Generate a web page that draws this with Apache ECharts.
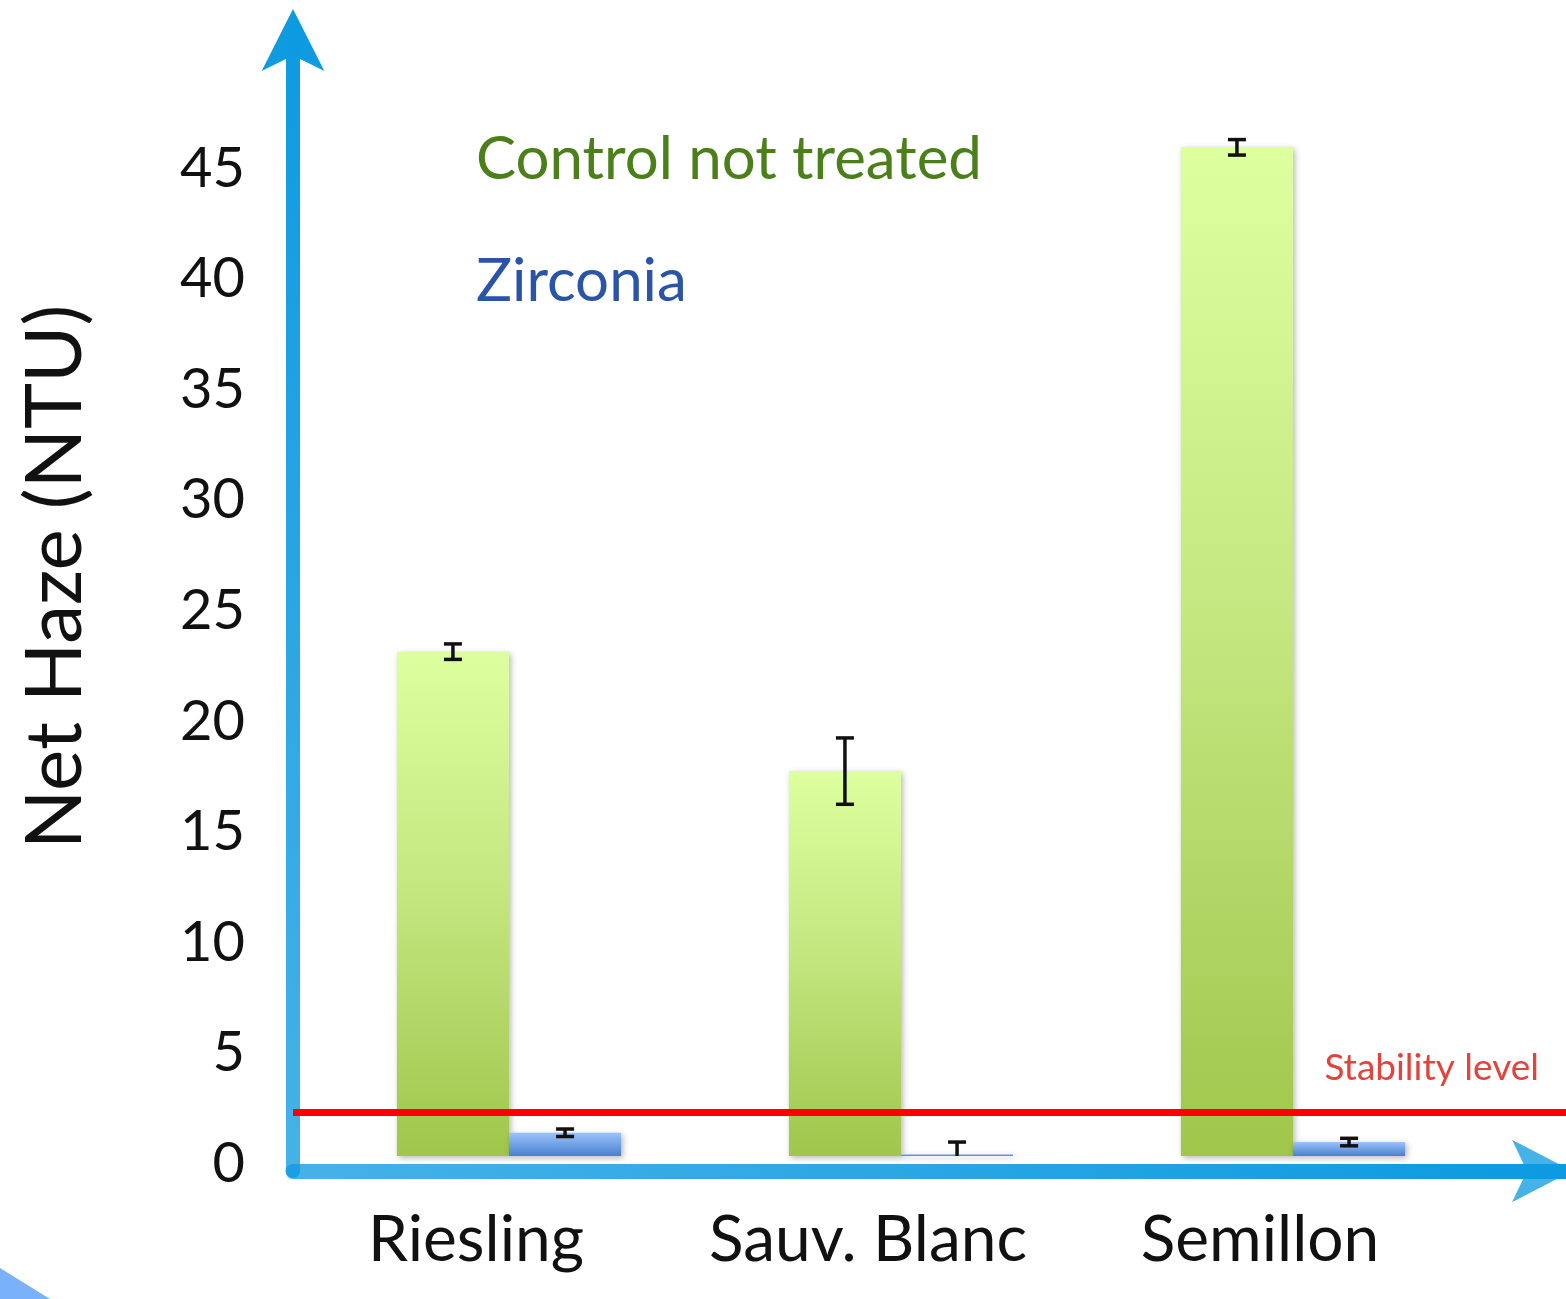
<!DOCTYPE html>
<html>
<head>
<meta charset="utf-8">
<title>Net Haze (NTU)</title>
<script src="https://cdn.jsdelivr.net/npm/echarts@6/dist/echarts.min.js"></script>
<style>
  html, body { margin: 0; padding: 0; background: #ffffff; }
  #chart { width: 1566px; height: 1299px; }
</style>
</head>
<body>
<div id="chart"></div>
<script>
// Wine varieties and net haze measurements (NTU)
const categories = ['Riesling', 'Sauv. Blanc', 'Semillon'];
const controlValues = [22.8, 17.4, 45.6];
const controlErrors = [0.35, 1.5, 0.35];
const zirconiaValues = [1.05, 0.08, 0.63];
const zirconiaErrors = [0.17, 0.55, 0.17];
const stabilityLevel = 2;
const yMax = 50;
const yInterval = 5;
const seriesNames = ['Control not treated', 'Zirconia'];

const FONT = 'Lato, "Open Sans", sans-serif';
const CHART_H = 1299;
const PLOT = { left: 313, right: 77, top: 50, bottom: 143 };   // bar grid
const FRAME = { left: 293, right: 0, top: 41, bottom: 128 };   // arrow axes grid
const BAR_FRACTION = 0.286;                                      // bar width / category band

// keep the arrow frame on the same value scale as the bar grid
const pxPerUnit = (CHART_H - PLOT.top - PLOT.bottom) / yMax;
const zeroPx = CHART_H - PLOT.bottom;
const frameMin = (zeroPx - (CHART_H - FRAME.bottom)) / pxPerUnit;
const frameMax = (zeroPx - FRAME.top) / pxPerUnit;

function errorData(values, errors) {
  return values.map((v, i) => [i, v - errors[i], v + errors[i]]);
}

function errorBarRenderer(side) {
  return function (params, api) {
    const cat = api.value(0);
    const band = api.size([1, 0])[0];
    const x = api.coord([cat, 0])[0] + side * band * BAR_FRACTION / 2;
    const yLo = api.coord([cat, api.value(1)])[1];
    const yHi = api.coord([cat, api.value(2)])[1];
    const half = 9;
    const style = { stroke: '#111111', lineWidth: 3.5 };
    return {
      type: 'group',
      children: [
        { type: 'line', shape: { x1: x, y1: yHi, x2: x, y2: yLo }, style },
        { type: 'line', shape: { x1: x - half, y1: yHi, x2: x + half, y2: yHi }, style },
        { type: 'line', shape: { x1: x - half, y1: yLo, x2: x + half, y2: yLo }, style }
      ]
    };
  };
}

const greenFill = new echarts.graphic.LinearGradient(0, 0, 0, 1, [
  { offset: 0, color: '#ddff9e' },
  { offset: 0.45, color: '#c6e882' },
  { offset: 1, color: '#a0c64c' }
]);
const blueFill = new echarts.graphic.LinearGradient(0, 0, 0, 1, [
  { offset: 0, color: '#9cc3fa' },
  { offset: 1, color: '#4880d0' }
]);
const barShadow = {
  shadowBlur: 6, shadowColor: 'rgba(0,0,0,0.28)', shadowOffsetX: 2, shadowOffsetY: 2
};

const yArrowColor = new echarts.graphic.LinearGradient(0, CHART_H - FRAME.bottom + 8, 0, 10, [
  { offset: 0, color: 'rgba(12,154,224,0.76)' },
  { offset: 1, color: 'rgba(12,154,224,1)' }
], true);
const xArrowColor = new echarts.graphic.LinearGradient(FRAME.left - 8, 0, 1566, 0, [
  { offset: 0, color: 'rgba(12,154,224,0.76)' },
  { offset: 1, color: 'rgba(12,154,224,1)' }
], true);

const chart = echarts.init(document.getElementById('chart'), null, { renderer: 'canvas' });

chart.setOption({
  backgroundColor: '#ffffff',
  animation: false,
  textStyle: { fontFamily: FONT },
  legend: {
    data: [
      { name: seriesNames[0], textStyle: { color: '#4a7f1a' } },
      { name: seriesNames[1], textStyle: { color: '#2a54a8' } }
    ],
    orient: 'vertical',
    left: 466,
    top: 125,
    icon: 'none',
    itemWidth: 0,
    itemHeight: 10,
    itemGap: 62,
    selectedMode: false,
    textStyle: { fontSize: 60, lineHeight: 60, fontFamily: FONT }
  },
  grid: [
    Object.assign({ containLabel: false, outerBoundsMode: 'none' }, PLOT),
    Object.assign({ containLabel: false, outerBoundsMode: 'none' }, FRAME)
  ],
  xAxis: [
    {
      gridIndex: 0,
      type: 'category',
      data: categories,
      axisLine: { show: false },
      axisTick: { show: false },
      axisLabel: {
        fontSize: 64, color: '#111111', margin: 52, interval: 0, fontFamily: FONT,
        padding: [0, 66, 0, 0]
      }
    },
    {
      gridIndex: 1,
      type: 'value',
      min: 0, max: 1,
      axisLine: {
        show: true, onZero: false,
        symbol: ['none', 'arrow'], symbolSize: [47, 60], symbolOffset: [0, 6],
        lineStyle: { color: xArrowColor, width: 15, cap: 'round' }
      },
      axisTick: { show: false },
      axisLabel: { show: false },
      splitLine: { show: false }
    }
  ],
  yAxis: [
    {
      gridIndex: 0,
      type: 'value',
      min: 0, max: yMax, interval: yInterval,
      name: 'Net Haze (NTU)',
      nameLocation: 'middle',
      nameRotate: 90,
      nameGap: 218,
      nameTextStyle: { fontSize: 78, color: '#111111', fontFamily: FONT, padding: [0, 0, 0, 52] },
      axisLine: { show: false },
      axisTick: { show: false },
      splitLine: { show: false },
      axisLabel: {
        margin: 68,
        showMaxLabel: false,
        formatter: (v) => '{t|' + v + '}',
        rich: {
          t: {
            fontSize: 56, color: '#111111', fontFamily: FONT,
            padding: [16, 0, 0, 0]
          }
        }
      }
    },
    {
      gridIndex: 1,
      type: 'value',
      min: frameMin, max: frameMax,
      axisLine: {
        show: true, onZero: false,
        symbol: ['none', 'arrow'], symbolSize: [47, 62], symbolOffset: [0, 32],
        lineStyle: { color: yArrowColor, width: 14, cap: 'round' }
      },
      axisTick: { show: false },
      axisLabel: { show: false },
      splitLine: { show: false }
    }
  ],
  series: [
    {
      name: seriesNames[0],
      type: 'bar',
      xAxisIndex: 0, yAxisIndex: 0,
      data: controlValues,
      barWidth: (BAR_FRACTION * 100) + '%',
      barGap: '0%',
      itemStyle: Object.assign({ color: greenFill }, barShadow)
    },
    {
      name: seriesNames[1],
      type: 'bar',
      xAxisIndex: 0, yAxisIndex: 0,
      data: zirconiaValues,
      barWidth: (BAR_FRACTION * 100) + '%',
      barGap: '0%',
      itemStyle: Object.assign({ color: blueFill }, barShadow)
    },
    {
      name: 'control-error',
      type: 'custom',
      xAxisIndex: 0, yAxisIndex: 0,
      data: errorData(controlValues, controlErrors),
      encode: { x: 0, y: [1, 2] },
      renderItem: errorBarRenderer(-1),
      clip: true,
      z: 5,
      silent: true
    },
    {
      name: 'zirconia-error',
      type: 'custom',
      xAxisIndex: 0, yAxisIndex: 0,
      data: errorData(zirconiaValues, zirconiaErrors),
      encode: { x: 0, y: [1, 2] },
      renderItem: errorBarRenderer(1),
      clip: true,
      z: 5,
      silent: true
    },
    {
      name: 'stability',
      type: 'line',
      xAxisIndex: 1, yAxisIndex: 1,
      data: [],
      z: 6,
      markLine: {
        silent: true,
        symbol: ['none', 'none'],
        lineStyle: { color: '#ff0000', width: 7, type: 'solid' },
        label: {
          show: true,
          position: 'insideEndTop',
          formatter: 'Stability level',
          color: '#e0443c',
          fontSize: 37,
          fontFamily: FONT,
          padding: [0, 22, 20, 0]
        },
        data: [{ yAxis: stabilityLevel }]
      }
    }
  ],
  graphic: [
    {
      type: 'polygon',
      silent: true,
      shape: { points: [[0, 1268], [50, 1299], [0, 1299]] },
      style: { fill: '#7ab1fb' }
    }
  ]
});
</script>
</body>
</html>
